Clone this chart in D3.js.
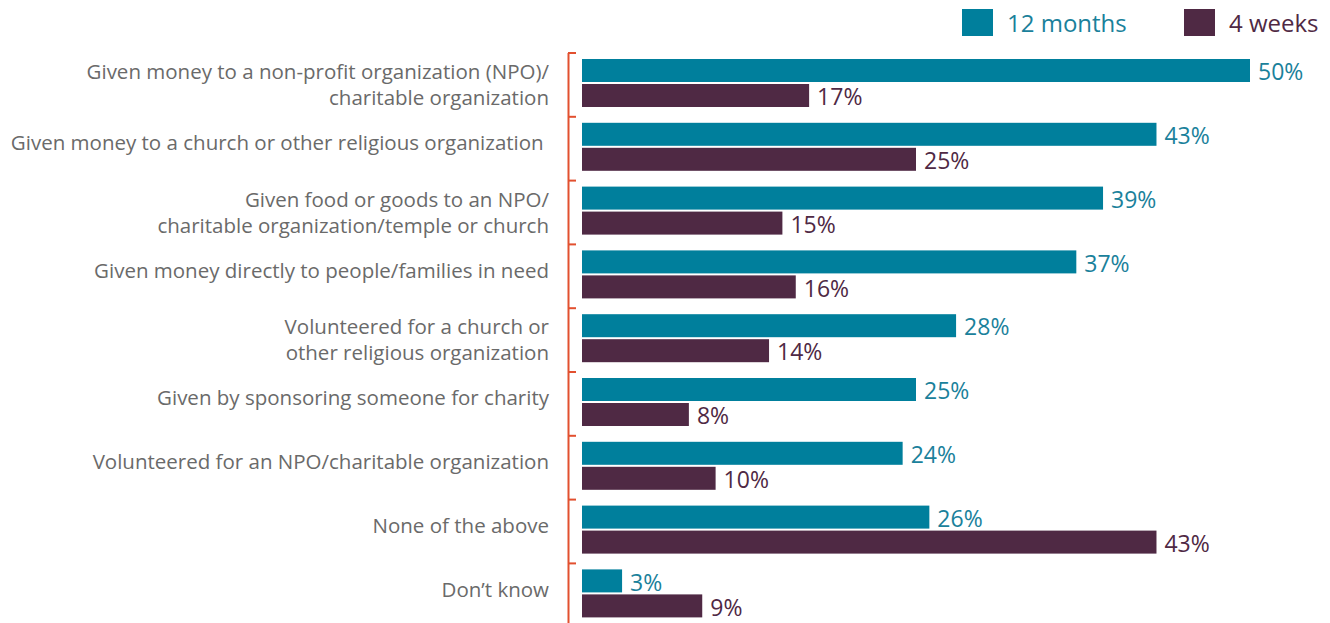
<!DOCTYPE html>
<html>
<meta charset="utf-8">
<style>
  body {margin:0; background:#fff;}
  text {font-family:"Open Sans", sans-serif;}
</style>
<body>
<svg id="chart" width="1330" height="623"></svg>
<script src="https://cdn.jsdelivr.net/npm/d3@7"></script>
<script>
var categories = [
  ["Given money to a non-profit organization (NPO)/", "charitable organization"],
  ["Given money to a church or other religious organization\u00a0"],
  ["Given food or goods to an NPO/", "charitable organization/temple or church"],
  ["Given money directly to people/families in need"],
  ["Volunteered for a church or", "other religious organization"],
  ["Given by sponsoring someone for charity"],
  ["Volunteered for an NPO/charitable organization"],
  ["None of the above"],
  ["Don\u2019t know"]
];
var series = ["12 months", "4 weeks"];
var months12 = [50, 43, 39, 37, 28, 25, 24, 26, 3];
var weeks4 = [17, 25, 15, 16, 14, 8, 10, 43, 9];

var colors = {"12 months": "#007f9c", "4 weeks": "#4f2944"};
var labelColors = {"12 months": "#1a819b", "4 weeks": "#4f2944"};

var svg = d3.select("#chart");
var idx = d3.range(categories.length);

var x = d3.scaleLinear().domain([0, 50]).range([582, 1250]);
var y0 = d3.scaleBand().domain(idx).range([53, 53 + 9 * 63.8]);
var y1 = d3.scaleBand().domain(series).range([6, 54]).paddingInner(0.08);

var values = {"12 months": months12, "4 weeks": weeks4};

// axis line + ticks
svg.append("line")
  .attr("x1", 568.5).attr("x2", 568.5)
  .attr("y1", 53).attr("y2", 623)
  .style("stroke", "#e2502f").style("stroke-width", 2);
svg.selectAll(".tick").data(idx).enter().append("line")
  .attr("x1", 568).attr("x2", 576)
  .attr("y1", function(i){return y0(i);})
  .attr("y2", function(i){return y0(i);})
  .style("stroke", "#e2502f").style("stroke-width", 2);

var g = svg.selectAll(".grp").data(idx).enter().append("g")
  .attr("transform", function(i){return "translate(0," + y0(i) + ")";});

series.forEach(function(s) {
  g.append("rect")
    .attr("x", x(0))
    .attr("y", y1(s))
    .attr("width", function(i){return x(values[s][i]) - x(0);})
    .attr("height", y1.bandwidth())
    .style("fill", colors[s]);
  g.append("text")
    .attr("x", function(i){return x(values[s][i]) + 8;})
    .attr("y", y1(s) + y1.bandwidth() / 2 + 1.5)
    .attr("dy", "0.36em")
    .style("font-size", "23px")
    .style("fill", labelColors[s])
    .text(function(i){return values[s][i] + "%";});
});

// category labels
g.each(function(i) {
  var lines = categories[i];
  var mid = y0.bandwidth() / 2 - (lines.length == 1 ? 6 : 0);
  var t = d3.select(this).append("text")
    .attr("text-anchor", "end")
    .style("font-size", "20.5px")
    .style("fill", "#6a6a6a");
  lines.forEach(function(l, k) {
    t.append("tspan")
      .attr("x", 549)
      .attr("y", mid + (k - (lines.length - 1) / 2) * 26)
      .attr("dy", "0.36em")
      .text(l);
  });
});

// legend
var legX = [962, 1184];
series.forEach(function(s, k) {
  svg.append("rect")
    .attr("x", legX[k]).attr("y", 9)
    .attr("width", 31).attr("height", 27)
    .style("fill", colors[s]);
  svg.append("text")
    .attr("x", legX[k] + 45).attr("y", 23)
    .attr("dy", "0.36em")
    .style("font-size", "24px")
    .style("fill", labelColors[s])
    .text(s);
});
</script>
</body>
</html>
